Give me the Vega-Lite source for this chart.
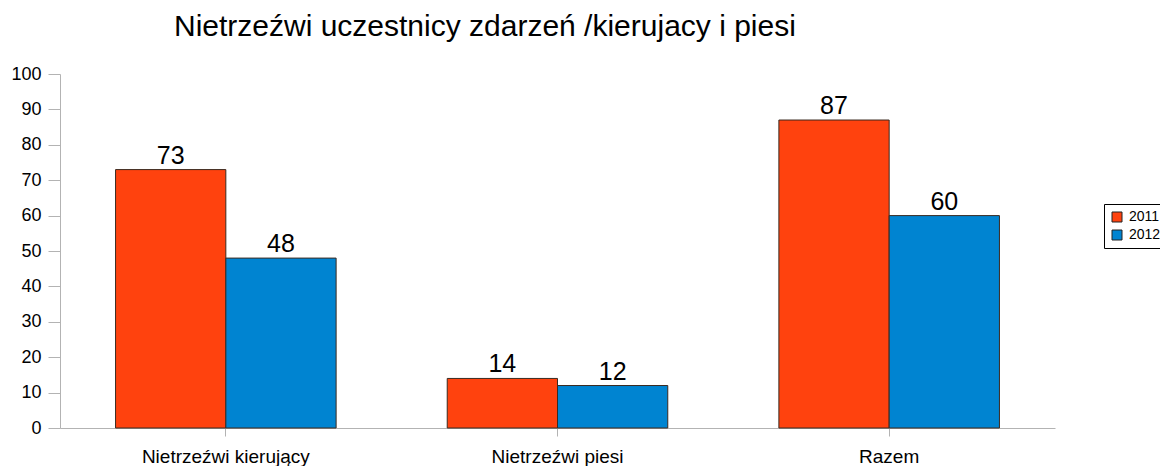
{
  "$schema": "https://vega.github.io/schema/vega-lite/v6.json",
  "width": 995,
  "height": 354,
  "autosize": {"type": "none"},
  "padding": {"left": 60, "top": 74, "right": 105, "bottom": 38},
  "background": "white",
  "config": {
    "font": "Liberation Sans",
    "view": {"stroke": null}
  },
  "title": {
    "text": "Nietrzeźwi uczestnicy zdarzeń /kierujacy i piesi",
    "anchor": "start",
    "dx": 163,
    "offset": -1,
    "baseline": "alphabetic",
    "fontSize": 30,
    "fontWeight": "normal",
    "color": "#000000",
    "font": "Liberation Sans"
  },
  "data": {
    "values": [
      {"kategoria": "Nietrzeźwi kierujący", "rok": "2011", "wartosc": 73},
      {"kategoria": "Nietrzeźwi kierujący", "rok": "2012", "wartosc": 48},
      {"kategoria": "Nietrzeźwi piesi", "rok": "2011", "wartosc": 14},
      {"kategoria": "Nietrzeźwi piesi", "rok": "2012", "wartosc": 12},
      {"kategoria": "Razem", "rok": "2011", "wartosc": 87},
      {"kategoria": "Razem", "rok": "2012", "wartosc": 60}
    ]
  },
  "encoding": {
    "x": {
      "field": "kategoria",
      "type": "nominal",
      "sort": null,
      "scale": {"paddingInner": 0.335, "paddingOuter": 0.1675},
      "axis": {
        "title": null,
        "labelAngle": 0,
        "labelFontSize": 19,
        "labelColor": "#000000",
        "labelPadding": 11,
        "domainColor": "#b3b3b3",
        "tickColor": "#b3b3b3",
        "tickSize": 8,
        "grid": false
      }
    },
    "xOffset": {"field": "rok", "type": "nominal", "scale": {"paddingInner": 0, "paddingOuter": 0}},
    "y": {
      "field": "wartosc",
      "type": "quantitative",
      "scale": {"domain": [0, 100], "nice": false},
      "axis": {
        "title": null,
        "values": [0, 10, 20, 30, 40, 50, 60, 70, 80, 90, 100],
        "labelFontSize": 18,
        "labelColor": "#000000",
        "labelPadding": 7,
        "domainColor": "#b3b3b3",
        "tickColor": "#b3b3b3",
        "tickSize": 12,
        "grid": false
      }
    }
  },
  "layer": [
    {
      "mark": {"type": "bar", "stroke": "#3a2a20", "strokeWidth": 1},
      "encoding": {
        "color": {
          "field": "rok",
          "type": "nominal",
          "scale": {"domain": ["2011", "2012"], "range": ["#ff420e", "#0084d1"]},
          "legend": {
            "title": null,
            "orient": "none",
            "legendX": 1044,
            "legendY": 130,
            "symbolType": "square",
            "symbolSize": 100,
            "symbolStrokeColor": "#222222",
            "symbolStrokeWidth": 1,
            "symbolOpacity": 1,
            "labelFontSize": 14,
            "labelColor": "#000000",
            "labelOffset": 5,
            "rowPadding": 4,
            "strokeColor": "#000000",
            "padding": 6,
            "fillColor": "#ffffff"
          }
        }
      }
    },
    {
      "mark": {"type": "text", "baseline": "alphabetic", "dy": -6, "fontSize": 25, "color": "#000000"},
      "encoding": {
        "text": {"field": "wartosc", "type": "quantitative"}
      }
    }
  ]
}
